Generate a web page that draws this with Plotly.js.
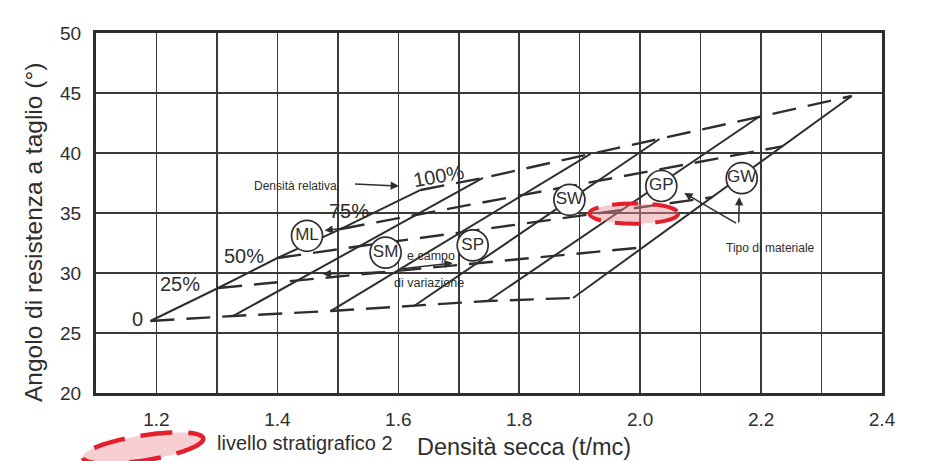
<!DOCTYPE html>
<html><head><meta charset="utf-8">
<script src="https://cdn.plot.ly/plotly-3.0.1.min.js"></script>
<style>html,body{margin:0;padding:0;background:#fff}#chart{width:931px;height:461px}</style>
</head><body><div id="chart"></div>
<script>
// ---- data ----
const materials = ['ML', 'SM', 'SP', 'SW', 'GP', 'GW'];
const rdLabels = ['0', '25%', '50%', '75%', '100%'];
// dry density (t/mc) of each material line at each relative density
const dens0   = [1.190, 1.327, 1.488, 1.626, 1.748, 1.889];
const dens25  = [1.302, 1.434, 1.598, 1.730, 1.858, 2.005];
const dens50  = [1.400, 1.535, 1.703, 1.831, 1.970, 2.119];
const dens75  = [1.505, 1.630, 1.806, 1.930, 2.083, 2.235];
const dens100 = [1.637, 1.740, 1.918, 2.032, 2.196, 2.350];
// shear resistance angle (deg) at the same points
const phi0   = [26.00, 26.42, 26.83, 27.25, 27.67, 27.92];
const phi25  = [28.75, 29.39, 30.18, 30.82, 31.43, 32.14];
const phi50  = [31.25, 32.23, 33.38, 34.28, 35.26, 36.31];
const phi75  = [33.67, 34.85, 36.50, 37.68, 39.12, 40.55];
const phi100 = [36.92, 37.92, 39.92, 41.17, 43.00, 44.75];
// circled material labels
const labelDens = [1.449, 1.579, 1.723, 1.883, 2.035, 2.168];
const labelPhi  = [33.10, 31.70, 32.30, 36.10, 37.25, 37.90];
// stratigraphic level 2 (red ellipse)
const stratumDens = [1.916, 2.063];
const stratumPhi  = [34.10, 35.80];
// axes
const xTicks = [1.1, 1.2, 1.3, 1.4, 1.5, 1.6, 1.7, 1.8, 1.9, 2.0, 2.1, 2.2, 2.3, 2.4];
const xTickText = ['', '1.2', '', '1.4', '', '1.6', '', '1.8', '', '2.0', '', '2.2', '', '2.4'];
const yTicks = [20, 25, 30, 35, 40, 45, 50];

// ---- build ----
const densByRd = [dens0, dens25, dens50, dens75, dens100];
const phiByRd = [phi0, phi25, phi50, phi75, phi100];
const ink = '#2e2e2e';
const fam = 'Liberation Sans, Arial, sans-serif';
const traces = [];
materials.forEach((m, i) => {
  traces.push({type: 'scatter', mode: 'lines', name: m,
    x: densByRd.map(a => a[i]), y: phiByRd.map(a => a[i]),
    line: {color: ink, width: 2}, hoverinfo: 'skip', showlegend: false});
});
rdLabels.forEach((r, k) => {
  traces.push({type: 'scatter', mode: 'lines', name: 'Dr ' + r,
    x: densByRd[k], y: phiByRd[k],
    line: {color: ink, width: 2.4, dash: '24px,12px'}, hoverinfo: 'skip', showlegend: false});
});
traces.push({type: 'scatter', mode: 'markers+text', x: labelDens, y: labelPhi, text: materials,
  textposition: 'middle center', textfont: {size: 17, color: ink, family: fam},
  marker: {size: 31, color: '#fff', line: {color: ink, width: 1.7}}, hoverinfo: 'skip', showlegend: false});

// plot-area pixel helpers for decoration placed outside the axes
const L = 96, R = 882, T = 33, B = 393;
const px2p = px => (px - L) / (R - L);
const py2p = py => (B - py) / (B - T);
function ellipsePath(cx, cy, a, b, deg) {
  const th = deg * Math.PI / 180; let d = '';
  for (let j = 0; j <= 72; j++) {
    const t = j / 72 * 2 * Math.PI;
    const x = cx + a * Math.cos(t) * Math.cos(th) - b * Math.sin(t) * Math.sin(th);
    const y = cy + a * Math.cos(t) * Math.sin(th) + b * Math.sin(t) * Math.cos(th);
    d += (j ? ' L ' : 'M ') + px2p(x).toFixed(4) + ' ' + py2p(y).toFixed(4);
  }
  return d + ' Z';
}

const shapes = [
  {type: 'rect', layer: 'below', xref: 'x', yref: 'y', x0: 1.36, x1: 1.68, y0: 35.15, y1: 39.85, fillcolor: '#fff', line: {width: 0}},
  {type: 'rect', layer: 'below', xref: 'x', yref: 'y', x0: 2.19, x1: 2.395, y0: 30.1, y1: 34.85, fillcolor: '#fff', line: {width: 0}},
  {type: 'circle', layer: 'above', xref: 'x', yref: 'y', x0: stratumDens[0], x1: stratumDens[1], y0: stratumPhi[0], y1: stratumPhi[1],
    fillcolor: 'rgba(234,140,150,0.45)', line: {color: '#e21f2b', width: 4, dash: '26px,14px'}},
  {type: 'path', xref: 'paper', yref: 'paper', path: ellipsePath(143, 448, 61, 12.5, -9),
    fillcolor: 'rgba(240,160,168,0.5)', line: {color: '#e21f2b', width: 4.5, dash: '32px,16px'}}
];

const arrow = (hx, hy, tx, ty) => ({x: hx, y: hy, ax: tx, ay: ty, xref: 'x', yref: 'y', axref: 'x', ayref: 'y',
  text: '', showarrow: true, arrowhead: 2, arrowsize: 1.1, arrowwidth: 1.5, arrowcolor: ink});
const txt = (x, y, s, size, extra) => Object.assign({x: x, y: y, xref: 'x', yref: 'y', text: s, showarrow: false,
  font: {size: size, color: ink, family: fam}}, extra || {});

const annotations = [
  txt(1.168, 26.17, rdLabels[0], 20),
  txt(1.239, 29.08, rdLabels[1], 20),
  txt(1.344, 31.42, rdLabels[2], 20),
  txt(1.518, 35.17, rdLabels[3], 20),
  txt(1.667, 38.10, rdLabels[4], 20, {textangle: -10}),
  txt(1.430, 37.25, 'Densità relativa', 12),
  arrow(1.601, 37.25, 1.526, 37.42),
  txt(1.654, 31.42, 'e campo', 12.5),
  txt(1.651, 29.19, 'di variazione', 12.5),
  arrow(1.475, 29.92, 1.576, 30.08),
  arrow(1.690, 30.83, 1.604, 30.33),
  arrow(1.478, 33.55, 1.522, 33.80),
  txt(2.216, 32.10, 'Tipo di materiale', 12),
  arrow(2.073, 36.67, 2.161, 34.08),
  arrow(2.164, 36.33, 2.163, 34.08),
  {xref: 'paper', yref: 'paper', x: px2p(215), y: py2p(443), xanchor: 'left', yanchor: 'middle', showarrow: false,
    text: 'livello stratigrafico 2', font: {size: 20, color: ink, family: 'Liberation Sans Narrow, ' + fam}},
  {xref: 'paper', yref: 'paper', x: px2p(415), y: py2p(447), xanchor: 'left', yanchor: 'middle', showarrow: false,
    text: 'Densità secca (t/mc)', font: {size: 23.5, color: ink, family: fam}},
  {xref: 'paper', yref: 'paper', x: px2p(33), y: py2p(233), xanchor: 'center', yanchor: 'middle', showarrow: false,
    textangle: -90, text: 'Angolo di resistenza a taglio (°)', font: {size: 24.5, color: ink, family: fam}}
];

const axisCommon = {showgrid: true, gridcolor: '#3a3a3a', gridwidth: 1.5, showline: true, linecolor: ink,
  linewidth: 3, mirror: true, zeroline: false, ticks: '', fixedrange: true,
  tickfont: {size: 19, color: ink, family: fam}};

const layout = {
  width: 931, height: 461, margin: {l: L, r: 931 - R, t: T, b: 461 - B},
  paper_bgcolor: '#fff', plot_bgcolor: '#fff', showlegend: false,
  font: {family: fam, color: ink},
  xaxis: Object.assign({}, axisCommon, {range: [1.1, 2.4], tickvals: xTicks, ticktext: xTickText, ticklabelstandoff: 7}),
  yaxis: Object.assign({}, axisCommon, {range: [20, 50], tickvals: yTicks, ticklabelstandoff: 8}),
  shapes: shapes, annotations: annotations
};
Plotly.newPlot('chart', traces, layout, {staticPlot: true, displayModeBar: false});
</script></body></html>
